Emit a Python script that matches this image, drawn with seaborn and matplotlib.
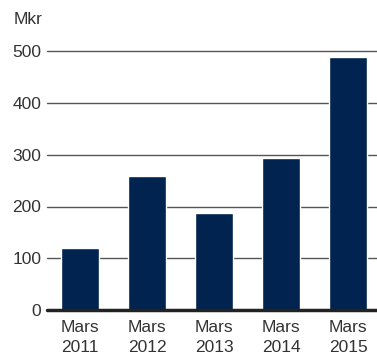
import matplotlib
matplotlib.use("Agg")
import matplotlib.pyplot as plt
import seaborn as sns
import pandas as pd

categories = ["Mars\n2011", "Mars\n2012", "Mars\n2013", "Mars\n2014", "Mars\n2015"]
values = [120, 259, 187, 293, 488]
yticks = [0, 100, 200, 300, 400, 500]
unit_label = "Mkr"

sns.set_theme(style="white")
plt.rcParams['font.family'] = ['Liberation Sans', 'DejaVu Sans']

df = pd.DataFrame({"cat": categories, "val": values})

fig = plt.figure(figsize=(3.77, 3.56), dpi=100)
ax = fig.add_axes([47/377, 45.7/356, 330/377, (310.3-50.8)/356])

sns.barplot(data=df, x="cat", y="val", color="#00244f", saturation=1,
            width=0.567, ax=ax, zorder=3)

ax.set_ylim(0, 500)
ax.set_xlim(-0.49, 4.43)
ax.set_yticks(yticks)
ax.set_yticklabels([str(t) for t in yticks])
for t in yticks[1:]:
    ax.axhline(t, color="#555555", lw=1.0, zorder=1, clip_on=False)
ax.axhline(0, color="#222222", lw=2.5, zorder=4, clip_on=False)

for s in ax.spines.values():
    s.set_visible(False)
ax.set_xlabel("")
ax.set_ylabel("")
ax.tick_params(axis="y", length=0, pad=4, labelsize=12.5, labelcolor="#333333")
ax.tick_params(axis="x", length=0, pad=7, labelsize=12.5, labelcolor="#333333")
for lab in ax.get_xticklabels():
    lab.set_linespacing(1.45)

fig.text(14/377, 1 - 20/356, unit_label, ha="left", va="center",
         fontsize=12.5, color="#333333")

fig.savefig("out.png", dpi=100)
